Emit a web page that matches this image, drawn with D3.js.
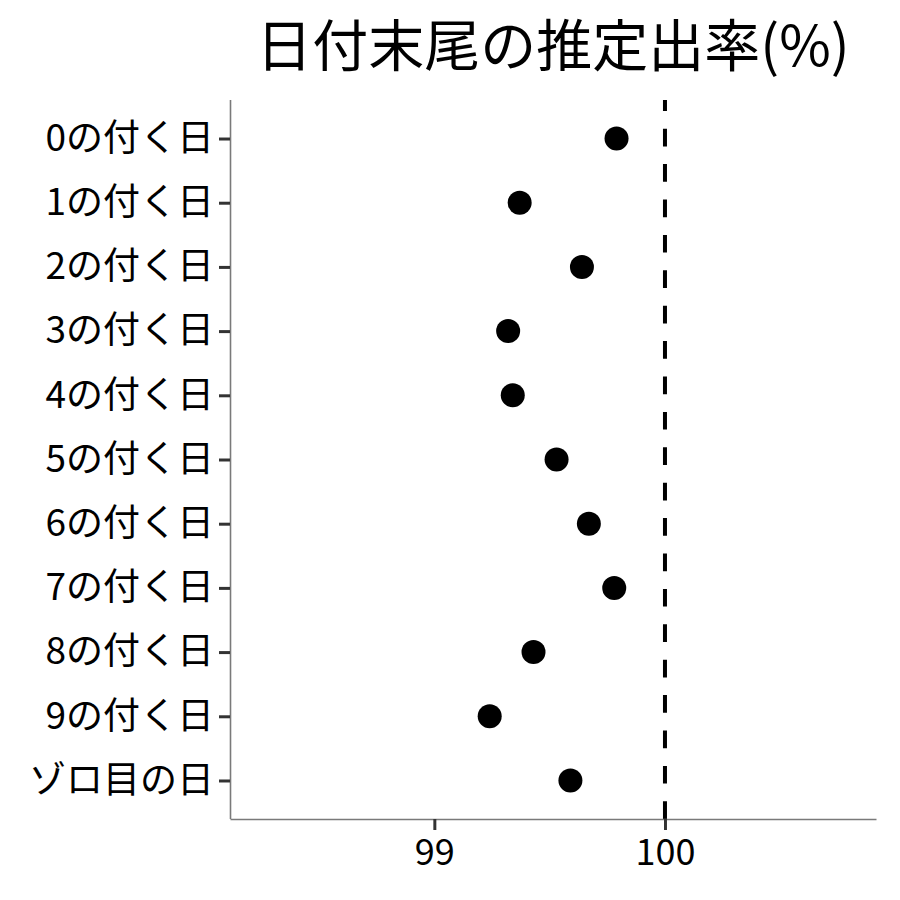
<!DOCTYPE html>
<html>
<head>
<meta charset="utf-8">
<script src="https://cdn.jsdelivr.net/npm/d3@7"></script>
<style>
  body { margin: 0; background: #fff; }
  text { font-family: "Noto Sans CJK JP", "Noto Sans", sans-serif; }
</style>
</head>
<body>
<div id="viz"></div>
<script>
// datos
var categorias = ['0の付く日', '1の付く日', '2の付く日', '3の付く日', '4の付く日',
                  '5の付く日', '6の付く日', '7の付く日', '8の付く日', '9の付く日', 'ゾロ目の日'];
var valores = [99.79, 99.37, 99.64, 99.32, 99.34, 99.53, 99.67, 99.78, 99.43, 99.24, 99.59];
var ticksX = [99, 100];
var referencia = 100;
var titulo = '日付末尾の推定出率(%)';

var width = 900, height = 900;
var panel = {left: 230, right: 876, top: 100, bottom: 819};

var svg = d3.select('#viz').append('svg')
  .attr('width', width)
  .attr('height', height)
  .style('background', '#fff');

var x = d3.scaleLinear().domain([98.114, 100.915]).range([panel.left, panel.right]);
var y = d3.scalePoint().domain(categorias).range([panel.top, panel.bottom]).padding(0.6);

// linea de referencia (punteada, empieza abajo)
svg.append('line')
  .attr('x1', x(referencia)).attr('x2', x(referencia))
  .attr('y1', panel.bottom).attr('y2', panel.top)
  .attr('stroke', '#000')
  .attr('stroke-width', 4)
  .attr('stroke-dasharray', '17.7,17.7');

// puntos
svg.append('g').selectAll('circle')
  .data(valores)
  .join('circle')
  .attr('cx', function(d){ return x(d); })
  .attr('cy', function(d, i){ return y(categorias[i]); })
  .attr('r', 12)
  .attr('fill', '#000');

// eje x
var ejeX = svg.append('g')
  .attr('transform', 'translate(0,' + panel.bottom + ')')
  .call(d3.axisBottom(x).tickValues(ticksX).tickSizeInner(11).tickSizeOuter(0)
    .tickPadding(9).tickFormat(d3.format('d')));
ejeX.select('.domain').attr('stroke', '#7a7a7a').attr('stroke-width', 1.6);
ejeX.selectAll('.tick line').attr('stroke', '#333').attr('stroke-width', 3);
ejeX.selectAll('.tick text').attr('fill', '#000').style('font-size', '36px');

// eje y
var ejeY = svg.append('g')
  .attr('transform', 'translate(' + panel.left + ',0)')
  .call(d3.axisLeft(y).tickSizeInner(11).tickSizeOuter(0).tickPadding(5));
ejeY.select('.domain').attr('d', 'M0.5,' + panel.top + 'V' + panel.bottom)
  .attr('stroke', '#7a7a7a').attr('stroke-width', 1.6);
ejeY.selectAll('.tick line').attr('stroke', '#333').attr('stroke-width', 3);
ejeY.selectAll('.tick text').attr('fill', '#000').style('font-size', '37px');

// titulo
svg.append('text')
  .attr('x', (panel.left + panel.right) / 2)
  .attr('y', 66)
  .attr('text-anchor', 'middle')
  .style('font-size', '56px')
  .attr('fill', '#000')
  .text(titulo);
</script>
</body>
</html>
